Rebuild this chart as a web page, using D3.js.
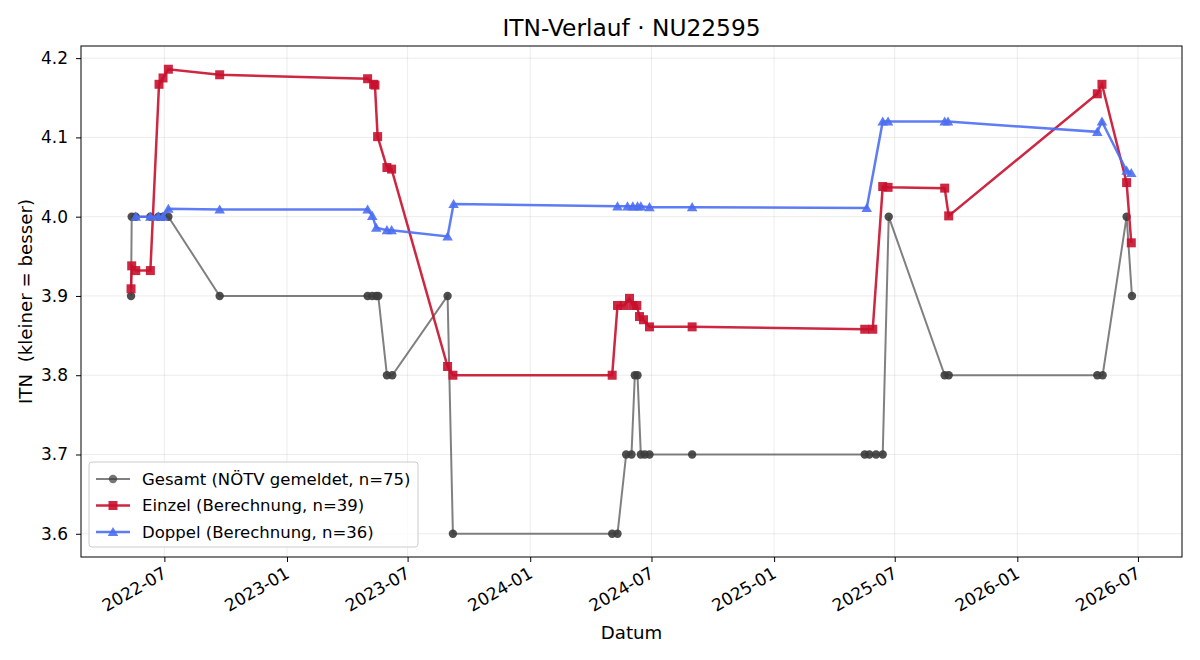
<!DOCTYPE html>
<html>
<head>
<meta charset="utf-8">
<script src="https://cdn.jsdelivr.net/npm/d3@7"></script>
<style>
  html, body { margin: 0; padding: 0; background: #fff; }
  svg { display: block; font-family: "DejaVu Sans", sans-serif; }
</style>
</head>
<body>
<svg id="chart" width="1200" height="660"></svg>
<script>
// ---- Data ----
const gesamtDates = ["2022-05-12","2022-05-13","2022-05-19","2022-06-10","2022-06-22","2022-06-29","2022-07-07","2022-09-22",
  "2023-05-02","2023-05-09","2023-05-15","2023-05-18","2023-05-31","2023-06-08","2023-08-30","2023-09-07",
  "2024-05-03","2024-05-11","2024-05-24","2024-06-01","2024-06-06","2024-06-10","2024-06-15","2024-06-21","2024-06-28","2024-08-31",
  "2025-05-17","2025-05-24","2025-06-03","2025-06-13","2025-06-22","2025-09-14","2025-09-20",
  "2026-05-01","2026-05-09","2026-06-14","2026-06-22"];
const gesamtValues = [3.9,4.0,4.0,4.0,4.0,4.0,4.0,3.9,
  3.9,3.9,3.9,3.9,3.8,3.8,3.9,3.6,
  3.6,3.6,3.7,3.7,3.8,3.8,3.7,3.7,3.7,3.7,
  3.7,3.7,3.7,3.7,4.0,3.8,3.8,
  3.8,3.8,4.0,3.9];

const einzelDates = ["2022-05-12","2022-05-13","2022-05-19","2022-06-10","2022-06-23","2022-06-29","2022-07-07","2022-09-22",
  "2023-05-02","2023-05-11","2023-05-13","2023-05-17","2023-05-31","2023-06-07","2023-08-30","2023-09-07",
  "2024-05-03","2024-05-11","2024-05-21","2024-05-29","2024-06-03","2024-06-09","2024-06-13","2024-06-19","2024-06-28","2024-08-31",
  "2025-05-17","2025-05-29","2025-06-13","2025-06-21","2025-09-14","2025-09-20",
  "2026-05-01","2026-05-08","2026-06-14","2026-06-21"];
const einzelValues = [3.909,3.938,3.932,3.932,4.167,4.175,4.186,4.179,
  4.174,4.167,4.166,4.101,4.062,4.060,3.811,3.800,
  3.800,3.888,3.888,3.897,3.888,3.888,3.874,3.870,3.861,3.861,
  3.858,3.858,4.038,4.037,4.036,4.001,
  4.155,4.167,4.043,3.967];

const doppelDates = ["2022-05-19","2022-06-10","2022-06-22","2022-06-29","2022-07-07","2022-09-22",
  "2023-05-02","2023-05-09","2023-05-15","2023-05-31","2023-06-07","2023-08-30","2023-09-08",
  "2024-05-11","2024-05-26","2024-06-03","2024-06-10","2024-06-15","2024-06-28","2024-08-31",
  "2025-05-20","2025-06-13","2025-06-21","2025-09-14","2025-09-19",
  "2026-05-01","2026-05-08","2026-06-14","2026-06-21"];
const doppelValues = [4.000,4.000,4.000,4.000,4.010,4.009,
  4.009,4.001,3.986,3.983,3.983,3.975,4.016,
  4.013,4.013,4.013,4.013,4.013,4.012,4.012,
  4.011,4.120,4.120,4.120,4.120,
  4.107,4.120,4.058,4.055];

const seriesLabels = ["Gesamt (NÖTV gemeldet, n=75)", "Einzel (Berechnung, n=39)", "Doppel (Berechnung, n=36)"];
const xTickDates = ["2022-07-01","2023-01-01","2023-07-01","2024-01-01","2024-07-01","2025-01-01","2025-07-01","2026-01-01","2026-07-01"];
const yTickValues = [3.6,3.7,3.8,3.9,4.0,4.1,4.2];
const titleText = "ITN-Verlauf · NU22595";
const xLabelText = "Datum";
const yLabelText = "ITN  (kleiner = besser)";

// ---- Build ----
const parse = d3.timeParse("%Y-%m-%d");
const mk = (ds, vs) => ds.map((d, i) => ({ date: parse(d), value: vs[i] }));
const gesamt = mk(gesamtDates, gesamtValues);
const einzel = mk(einzelDates, einzelValues);
const doppel = mk(doppelDates, doppelValues);
const all = gesamt.concat(einzel, doppel);

const margin = { left: 81, right: 18, top: 46, bottom: 103 };
const W = 1200, H = 660;
const iw = W - margin.left - margin.right, ih = H - margin.top - margin.bottom;

const [dmin, dmax] = d3.extent(all, d => d.date);
const dpad = (dmax - dmin) * 0.05;
const x = d3.scaleTime().domain([new Date(+dmin - dpad), new Date(+dmax + dpad)]).range([0, iw]);
const [vmin, vmax] = d3.extent(all, d => d.value);
const vpad = (vmax - vmin) * 0.05;
const y = d3.scaleLinear().domain([vmin - vpad, vmax + vpad]).range([ih, 0]);

const svg = d3.select("#chart");
const g = svg.append("g").attr("transform", `translate(${margin.left},${margin.top})`);

const xTicks = xTickDates.map(parse);
const TFX = 17, TFY = 17, LF = 16.5;
// grid
g.append("g").selectAll("line").data(xTicks).join("line")
  .attr("x1", d => x(d)).attr("x2", d => x(d)).attr("y1", 0).attr("y2", ih)
  .attr("stroke", "#b0b0b0").attr("stroke-opacity", 0.3).attr("stroke-width", 0.8);
g.append("g").selectAll("line").data(yTickValues).join("line")
  .attr("x1", 0).attr("x2", iw).attr("y1", d => y(d)).attr("y2", d => y(d))
  .attr("stroke", "#b0b0b0").attr("stroke-opacity", 0.3).attr("stroke-width", 0.8);

// axes
const xAxis = d3.axisBottom(x).tickValues(xTicks).tickFormat(d3.timeFormat("%Y-%m")).tickSize(5).tickPadding(4);
const xg = g.append("g").attr("transform", `translate(0,${ih})`).call(xAxis);
xg.attr("font-family", null);
xg.select(".domain").remove();
xg.selectAll(".tick line").attr("stroke", "#000");
xg.selectAll(".tick text")
  .attr("font-size", TFX).attr("fill", "#000")
  .attr("text-anchor", "end")
  .attr("x", 0).attr("y", 0).attr("dy", "0.72em")
  .attr("transform", "translate(-3,9) rotate(-30)");

const yAxis = d3.axisLeft(y).tickValues(yTickValues).tickFormat(d3.format(".1f")).tickSize(5).tickPadding(8);
const yg = g.append("g").call(yAxis);
yg.attr("font-family", null);
yg.select(".domain").remove();
yg.selectAll("text").attr("font-size", TFY).attr("fill", "#000");
yg.selectAll(".tick line").attr("stroke", "#000");

// series
const line = d3.line().x(d => x(d.date)).y(d => y(d.value));
const gCol = "#555555", eCol = "#c8102e", dCol = "#4d6ef2";

// Gesamt
g.append("path").datum(gesamt).attr("d", line).attr("fill", "none")
  .attr("stroke", gCol).attr("stroke-opacity", 0.75).attr("stroke-width", 2);
g.append("g").selectAll("circle").data(gesamt).join("circle")
  .attr("cx", d => x(d.date)).attr("cy", d => y(d.value)).attr("r", 4.2)
  .attr("fill", "#3c3c3c").attr("fill-opacity", 0.9);

// Einzel
g.append("path").datum(einzel).attr("d", line).attr("fill", "none")
  .attr("stroke", eCol).attr("stroke-opacity", 0.9).attr("stroke-width", 2.5);
const sq = 9;
g.append("g").selectAll("rect").data(einzel).join("rect")
  .attr("x", d => x(d.date) - sq / 2).attr("y", d => y(d.value) - sq / 2)
  .attr("width", sq).attr("height", sq)
  .attr("fill", eCol).attr("fill-opacity", 0.9);

// Doppel
const tri = d3.symbol().type(d3.symbolTriangle).size(48);
g.append("path").datum(doppel).attr("d", line).attr("fill", "none")
  .attr("stroke", dCol).attr("stroke-opacity", 0.9).attr("stroke-width", 2.5);
g.append("g").selectAll("path").data(doppel).join("path")
  .attr("d", tri)
  .attr("transform", d => `translate(${x(d.date)},${y(d.value) + 1})`)
  .attr("fill", dCol).attr("fill-opacity", 0.9);

// frame
g.append("rect").attr("x", 0).attr("y", 0).attr("width", iw).attr("height", ih)
  .attr("fill", "none").attr("stroke", "#000").attr("stroke-width", 1);

// title & labels
svg.append("text").attr("x", margin.left + iw / 2).attr("y", 36)
  .attr("text-anchor", "middle").attr("font-size", 23.3).attr("fill", "#000").text(titleText);
svg.append("text").attr("x", margin.left + iw / 2).attr("y", 639)
  .attr("text-anchor", "middle").attr("font-size", 18.2).attr("fill", "#000").text(xLabelText);
svg.append("text").attr("transform", `translate(32,${margin.top + ih / 2}) rotate(-90)`)
  .attr("text-anchor", "middle").attr("font-size", 18.2).attr("fill", "#000")
  .style("white-space", "pre").text(yLabelText);

// legend
const lg = svg.append("g").attr("transform", "translate(89,462)");
lg.append("rect").attr("x", 0).attr("y", 0).attr("width", 329).attr("height", 85)
  .attr("rx", 3).attr("fill", "#fff").attr("fill-opacity", 0.8)
  .attr("stroke", "#cccccc").attr("stroke-width", 1);
const legItems = [
  { label: seriesLabels[0], col: gCol, type: "circle", w: 2, op: 0.75 },
  { label: seriesLabels[1], col: eCol, type: "square", w: 2.5, op: 0.9 },
  { label: seriesLabels[2], col: dCol, type: "triangle", w: 2.5, op: 0.9 }
];
legItems.forEach((it, i) => {
  const yy = 17 + i * 26.5;
  lg.append("line").attr("x1", 7).attr("x2", 41).attr("y1", yy).attr("y2", yy)
    .attr("stroke", it.col).attr("stroke-opacity", it.op).attr("stroke-width", it.w);
  if (it.type === "circle") {
    lg.append("circle").attr("cx", 24).attr("cy", yy).attr("r", 4.2).attr("fill", "#3c3c3c").attr("fill-opacity", 0.7);
  } else if (it.type === "square") {
    lg.append("rect").attr("x", 24 - sq / 2).attr("y", yy - sq / 2).attr("width", sq).attr("height", sq).attr("fill", it.col).attr("fill-opacity", 0.9);
  } else {
    lg.append("path").attr("d", tri).attr("transform", `translate(24,${yy + 1})`).attr("fill", it.col).attr("fill-opacity", 0.9);
  }
  lg.append("text").attr("x", 53).attr("y", yy).attr("dy", "0.35em")
    .attr("font-size", LF).attr("fill", "#000").text(it.label);
});
</script>
</body>
</html>
